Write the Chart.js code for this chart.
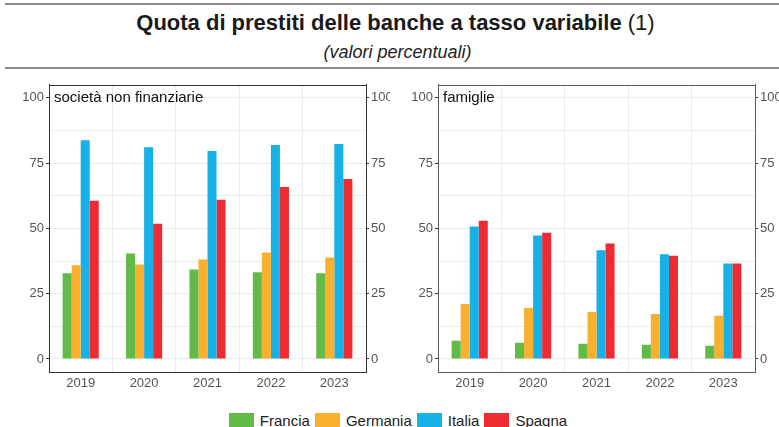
<!DOCTYPE html>
<html>
<head>
<meta charset="utf-8">
<script src="https://cdn.jsdelivr.net/npm/chart.js@4"></script>
<style>
  body { margin: 0; background: #fff; font-family: 'Liberation Sans', Arial, sans-serif; }
  #page { position: relative; width: 779px; height: 427px; overflow: hidden; }
  .rule { position: absolute; left: 5px; right: 0; height: 2px; background: #8a8a8a; }
  #title { position: absolute; top: 10px; left: 6px; width: 779px; text-align: center; font-size: 22px; font-weight: bold; color: #1a1a1a; }
  #title span { font-weight: normal; }
  #subtitle { position: absolute; top: 42px; left: 8px; width: 779px; text-align: center; font-size: 18px; font-style: italic; color: #222; }
  .panel { position: absolute; top: 75px; height: 320px; }
  .panel-label { position: absolute; top: 88px; font-size: 15px; color: #111; }
  #legend { position: absolute; top: 412px; left: 11px; width: 779px; display: flex; justify-content: center; font-size: 15px; color: #222; }
  .item { display: flex; align-items: center; margin-right: 5px; }
  .box { width: 25px; height: 15px; margin-right: 6px; }
</style>
</head>
<body>
<div id="page">
  <div class="rule" style="top:3px"></div>
  <div id="title">Quota di prestiti delle banche a tasso variabile <span>(1)</span></div>
  <div id="subtitle">(valori percentuali)</div>
  <div class="rule" style="top:67px"></div>
  <div class="panel" style="left:0;width:390px"><canvas id="c1"></canvas></div>
  <div class="panel" style="left:390px;width:389px"><canvas id="c2"></canvas></div>
  <div class="panel-label" style="left:54px">società non finanziarie</div>
  <div class="panel-label" style="left:443px">famiglie</div>
  <div id="legend"></div>
</div>
<script>
const years = ['2019', '2020', '2021', '2022', '2023'];
const countries = ['Francia', 'Germania', 'Italia', 'Spagna'];
const colors = ['#62bb46', '#fbb02d', '#16b1e6', '#ee2a33'];

// società non finanziarie
const nfFrancia  = [32.8, 40.4, 34.3, 33.2, 32.8];
const nfGermania = [35.9, 36.2, 38.1, 40.8, 38.9];
const nfItalia   = [83.8, 81.1, 79.6, 81.9, 82.3];
const nfSpagna   = [60.6, 51.8, 61.0, 65.9, 68.9];

// famiglie
const famFrancia  = [7.0, 6.2, 5.8, 5.4, 5.1];
const famGermania = [21.0, 19.5, 18.0, 17.2, 16.5];
const famItalia   = [50.7, 47.3, 41.6, 40.1, 36.6];
const famSpagna   = [52.9, 48.3, 44.2, 39.5, 36.6];

const yGrid = [0, 12.5, 25, 37.5, 50, 62.5, 75, 87.5, 100];
const yLabels = [0, 25, 50, 75, 100];

const TICK_FONT = { family: 'Liberation Sans', size: 13 };
const TICK_COLOR = '#555555';

// the axes draw left, right and bottom borders; this adds the top edge
function topEdge(color) {
    return {
        id: 'topEdge',
        afterDraw(chart) {
            const a = chart.chartArea, ctx = chart.ctx;
            const y = Math.round(a.top) + 0.5;
            ctx.save();
            ctx.strokeStyle = color;
            ctx.lineWidth = 1;
            ctx.beginPath();
            ctx.moveTo(a.left, y);
            ctx.lineTo(a.right, y);
            ctx.stroke();
            ctx.restore();
        }
    };
}

function yAxis(position, width, onChart, frameColor) {
    return {
        type: 'linear',
        position: position,
        min: -5,
        max: 105,
        afterBuildTicks: s => { s.ticks = yGrid.map(v => ({ value: v })); },
        afterFit: s => { s.width = width; },
        ticks: {
            autoSkip: false,
            color: TICK_COLOR,
            font: TICK_FONT,
            padding: 2,
            callback: v => yLabels.includes(v) ? String(v) : '',
        },
        grid: {
            drawOnChartArea: onChart,
            color: '#ebebeb',
            lineWidth: 1,
            tickLength: 3,
            tickColor: c => (c.tick && yLabels.includes(c.tick.value)) ? '#333' : 'rgba(0,0,0,0)',
        },
        border: { display: true, color: frameColor },
    };
}

function makeChart(id, series, leftW, rightW, frameColor) {
    return new Chart(document.getElementById(id), {
        type: 'bar',
        data: {
            labels: years,
            datasets: countries.map((name, i) => ({
                label: name,
                data: series[i],
                backgroundColor: colors[i],
                borderWidth: 0,
                barPercentage: 1,
                categoryPercentage: 0.57,
                yAxisID: 'y',
            })),
        },
        options: {
            responsive: true,
            maintainAspectRatio: false,
            animation: false,
            layout: { padding: { top: 8, left: 0, right: 0, bottom: 0 } },
            plugins: { legend: { display: false }, tooltip: { enabled: false } },
            scales: {
                x: {
                    afterFit: s => { s.height = 23; },
                    ticks: { color: TICK_COLOR, font: TICK_FONT, padding: 4 },
                    grid: { offset: true, color: '#ebebeb', drawTicks: false },
                    border: { display: true, color: frameColor },
                },
                y: yAxis('left', leftW, true, frameColor),
                y2: yAxis('right', rightW, false, frameColor),
            },
        },
        plugins: [topEdge(frameColor)],
    });
}

makeChart('c1', [nfFrancia, nfGermania, nfItalia, nfSpagna], 49, 24, '#333333');
makeChart('c2', [famFrancia, famGermania, famItalia, famSpagna], 48, 24, '#5a5a5a');

const legend = document.getElementById('legend');
countries.forEach((name, i) => {
    const item = document.createElement('div');
    item.className = 'item';
    item.innerHTML = `<div class="box" style="background:${colors[i]}"></div>${name}`;
    legend.appendChild(item);
});
</script>
</body>
</html>
